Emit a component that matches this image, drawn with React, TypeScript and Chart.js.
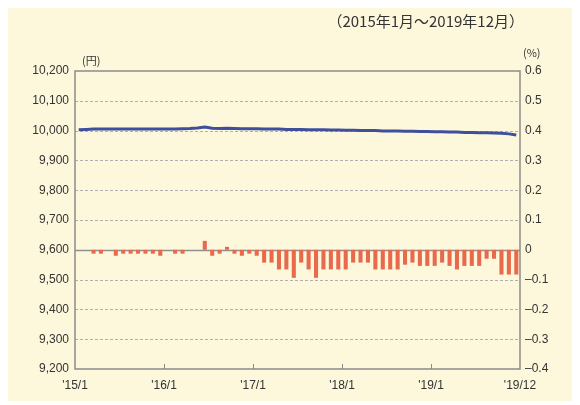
import React, { useEffect, useRef } from 'react';
import { Chart, registerables } from 'chart.js';

Chart.register(...registerables);

// X tick labels at month 0, 12, 24, 36, 48, 60
const xTickLabels = ["'15/1", "'16/1", "'17/1", "'18/1", "'19/1", "'19/12"];

// Monthly average (円), Jan 2015 - Dec 2019
const priceYen = [
  10003, 10004, 10005, 10005, 10005, 10005, 10005, 10005, 10005, 10005, 10005, 10005,
  10005, 10005, 10006, 10007, 10009, 10012, 10008, 10007, 10008, 10007, 10006, 10006,
  10006, 10005, 10005, 10005, 10004, 10004, 10004, 10003, 10003, 10003, 10002, 10002,
  10001, 10001, 10000, 10000, 10000, 9999, 9999, 9999, 9998, 9998, 9997, 9997,
  9996, 9996, 9995, 9995, 9994, 9994, 9993, 9993, 9992, 9991, 9989, 9985,
];

// Year-on-year change (%)
const changePct = [
  0, 0, -0.013, -0.013, 0, -0.02, -0.013, -0.013, -0.013, -0.013, -0.013, -0.02,
  0, -0.013, -0.013, 0, 0, 0.03, -0.02, -0.013, 0.01, -0.013, -0.02, -0.013,
  -0.02, -0.043, -0.043, -0.066, -0.066, -0.094, -0.043, -0.066, -0.094, -0.066, -0.066, -0.066,
  -0.066, -0.043, -0.043, -0.043, -0.066, -0.066, -0.066, -0.066, -0.05, -0.043, -0.054, -0.054,
  -0.054, -0.043, -0.054, -0.066, -0.054, -0.054, -0.054, -0.03, -0.03, -0.083, -0.083, -0.083,
];

const periodText = '（2015年1月～2019年12月）';
const leftUnit = '(円)';
const rightUnit = '(%)';

const FONT = "'Liberation Sans Narrow', 'Arial Narrow', 'Liberation Sans', Arial, sans-serif";
const CJK = "'Noto Sans CJK JP', 'Noto Sans', sans-serif";

const decorPlugin = {
  id: 'decor',
  beforeDatasetsDraw(chart: any) {
    const { ctx, chartArea: a, scales } = chart;
    const y = scales.y;
    ctx.save();
    for (let v = 9300; v <= 10100; v += 100) {
      const py = Math.round(y.getPixelForValue(v)) + 0.5;
      ctx.beginPath();
      if (v === 9600) {
        ctx.setLineDash([]);
        ctx.strokeStyle = '#8f8f8f';
        ctx.lineWidth = 1.5;
      } else {
        ctx.setLineDash([3, 2]);
        ctx.strokeStyle = '#b0b0b0';
        ctx.lineWidth = 1;
      }
      ctx.moveTo(a.left, py);
      ctx.lineTo(a.right, py);
      ctx.stroke();
    }
    ctx.restore();
  },
  afterDatasetsDraw(chart: any) {
    const { ctx, chartArea: a, scales } = chart;
    const x = scales.x;
    ctx.save();
    ctx.setLineDash([]);
    ctx.strokeStyle = '#8a8a8a';
    ctx.lineWidth = 1.5;
    ctx.strokeRect(a.left, a.top, a.right - a.left, a.bottom - a.top);
    ctx.lineWidth = 1;
    for (let m = 12; m < 60; m += 12) {
      const px = Math.round(x.getPixelForValue(m)) + 0.5;
      ctx.beginPath();
      ctx.moveTo(px, a.bottom);
      ctx.lineTo(px, a.bottom - 5);
      ctx.stroke();
    }
    ctx.restore();
  },
  afterDraw(chart: any) {
    const { ctx, chartArea: a } = chart;
    ctx.save();
    ctx.fillStyle = '#333';
    ctx.textBaseline = 'middle';
    ctx.font = `15px ${CJK}`;
    ctx.textAlign = 'right';
    ctx.fillText(periodText, a.right + 4, 14);
    ctx.font = `11px ${CJK}`;
    ctx.textAlign = 'left';
    ctx.fillText(leftUnit, a.left + 7, 54);
    ctx.fillText(rightUnit, a.right + 3, 46);
    ctx.restore();
  },
};

export default function App() {
  const ref = useRef<HTMLCanvasElement>(null);
  useEffect(() => {
    if (!ref.current) return;
    const chart = new Chart(ref.current, {
      type: 'bar',
      data: {
        datasets: [
          {
            type: 'line',
            label: '円',
            data: priceYen.map((v, i) => ({ x: i + 0.5, y: v })),
            yAxisID: 'y',
            borderColor: '#3e4f9c',
            borderWidth: 3,
            pointRadius: 0,
            tension: 0,
            order: 0,
          } as any,
          {
            type: 'bar',
            label: '%',
            data: changePct.map((v, i) => ({ x: i + 0.5, y: v })),
            yAxisID: 'y1',
            backgroundColor: '#e9694d',
            borderWidth: 0,
            categoryPercentage: 1,
            barPercentage: 0.55,
            order: 1,
          } as any,
        ],
      },
      options: {
        animation: false,
        responsive: false,
        devicePixelRatio: 1,
        layout: { padding: { top: 64, left: 0, right: 0, bottom: 0 } },
        plugins: { legend: { display: false }, tooltip: { enabled: false } },
        scales: {
          x: {
            type: 'linear',
            offset: false,
            min: 0,
            max: 60,
            grid: { display: false, drawTicks: false },
            border: { display: false },
            afterBuildTicks: (s: any) => {
              s.ticks = [0, 12, 24, 36, 48, 60].map((v) => ({ value: v }));
            },
            afterFit: (s: any) => {
              s.height = 32;
            },
            ticks: {
              autoSkip: false,
              maxRotation: 0,
              padding: 9,
              color: '#333',
              font: { family: FONT, size: 12 },
              callback: (v: any) => xTickLabels[Math.round(Number(v) / 12)] ?? '',
            },
          },
          y: {
            type: 'linear',
            position: 'left',
            min: 9200,
            max: 10200,
            grid: { display: false, drawTicks: false },
            border: { display: false },
            afterFit: (s: any) => {
              s.width = 67;
            },
            ticks: {
              stepSize: 100,
              padding: 6,
              color: '#333',
              font: { family: FONT, size: 12 },
              callback: (v: any) => Number(v).toLocaleString('en-US'),
            },
          },
          y1: {
            type: 'linear',
            position: 'right',
            min: -0.4,
            max: 0.6,
            grid: { display: false, drawTicks: false },
            border: { display: false },
            afterFit: (s: any) => {
              s.width = 52;
            },
            ticks: {
              stepSize: 0.1,
              padding: 5,
              color: '#333',
              font: { family: FONT, size: 12 },
              callback: (v: any) => {
                const n = Math.round(Number(v) * 10) / 10;
                if (n === 0) return '0';
                return n < 0 ? '–' + Math.abs(n).toFixed(1) : n.toFixed(1);
              },
            },
          },
        },
      } as any,
      plugins: [decorPlugin],
    });
    return () => chart.destroy();
  }, []);

  return (
    <div style={{ width: 564, height: 394, background: '#fdf8dc', marginTop: -1 }}>
      <canvas ref={ref} width={564} height={394} style={{ display: 'block' }} />
    </div>
  );
}
